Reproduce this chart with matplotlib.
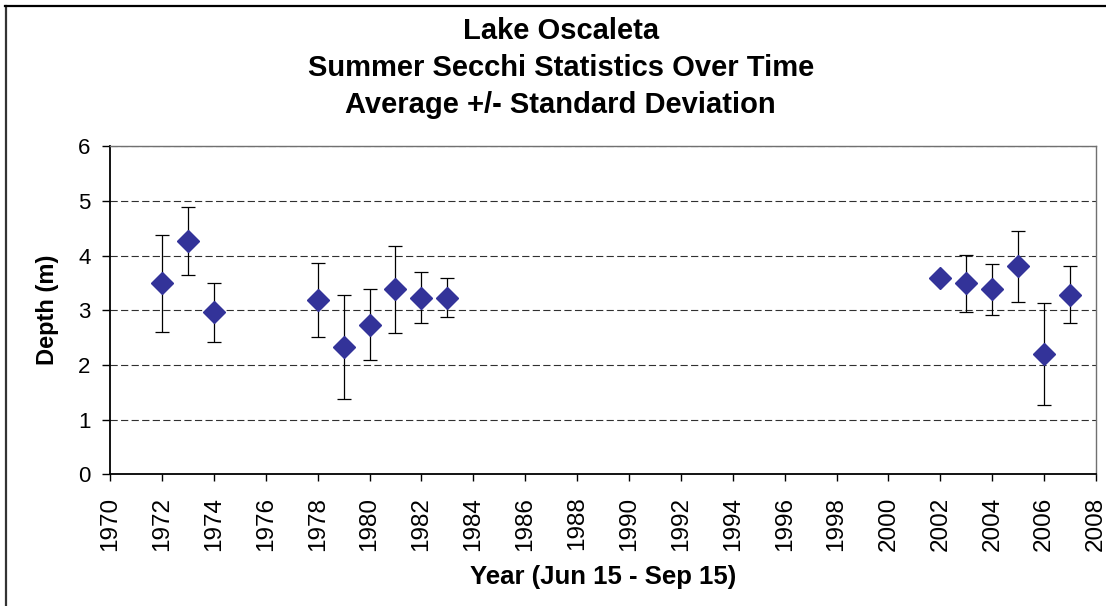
"""Lake Oscaleta summer Secchi depth: yearly mean +/- standard deviation."""

import matplotlib

matplotlib.use("Agg")
import matplotlib.pyplot as plt
from matplotlib.lines import Line2D

# ---------------------------------------------------------------------------
# Data
# ---------------------------------------------------------------------------
years = [1972, 1973, 1974, 1978, 1979, 1980, 1981, 1982, 1983,
         2002, 2003, 2004, 2005, 2006, 2007]
mean_depth = [3.49, 4.26, 2.96, 3.19, 2.33, 2.74, 3.38, 3.23, 3.23,
              3.59, 3.49, 3.38, 3.80, 2.20, 3.28]
sd_depth = [0.88, 0.62, 0.54, 0.67, 0.95, 0.64, 0.80, 0.47, 0.36,
            0.0, 0.52, 0.47, 0.65, 0.93, 0.52]

x_ticks = list(range(1970, 2009, 2))
y_ticks = [0, 1, 2, 3, 4, 5, 6]

TITLE = "Lake Oscaleta\nSummer Secchi Statistics Over Time\nAverage +/- Standard Deviation"
MARKER_COLOR = "#333399"

plt.rcParams["font.family"] = ["Liberation Sans", "DejaVu Sans"]

fig = plt.figure(figsize=(11.06, 6.06), dpi=100)
ax = fig.add_axes([0.0995, 0.217, 0.8915, 0.542])

# dashed horizontal grid
for y in y_ticks[1:]:
    ax.axhline(y, color="#303030", lw=0.8, ls=(0, (6.5, 3)), zorder=1)

ax.errorbar(years, mean_depth, yerr=sd_depth, fmt="none", ecolor="black",
            elinewidth=0.9, capsize=5, capthick=0.9, zorder=2)
ax.plot(years, mean_depth, ls="none", marker="D", ms=11,
        color=MARKER_COLOR, mec=MARKER_COLOR, zorder=3)

ax.set_xlim(1970, 2008)
ax.set_ylim(0, 6)
ax.set_xticks(x_ticks)
ax.set_xticklabels([str(t) for t in x_ticks], rotation=90, fontsize=17.5)
ax.set_yticks(y_ticks)
ax.set_yticklabels([str(t) for t in y_ticks], fontsize=16)
ax.tick_params(axis="x", direction="out", length=5, width=1, pad=11)
ax.tick_params(axis="y", direction="out", length=6, width=1, pad=8)

for side in ("left", "bottom"):
    ax.spines[side].set_color("black")
    ax.spines[side].set_linewidth(1.3)
for side in ("top", "right"):
    ax.spines[side].set_color("#707070")
    ax.spines[side].set_linewidth(1.0)

ax.set_xlabel("Year (Jun 15 - Sep 15)", fontsize=18.5, fontweight="bold", labelpad=10)
ax.set_ylabel("Depth (m)", fontsize=17, fontweight="bold", labelpad=14)

fig.text(0.507, 0.972, TITLE, ha="center", va="top", fontsize=21,
         fontweight="bold", linespacing=1.4)

# outer chart frame (only left and top edges are visible in the crop)
fig.add_artist(Line2D([0.0054, 0.0054], [0, 0.99], transform=fig.transFigure,
                      color="#333333", lw=1.6))
fig.add_artist(Line2D([0.0045, 1.0], [0.99, 0.99], transform=fig.transFigure,
                      color="black", lw=1.6))

fig.savefig("out.png", dpi=100)
plt.close(fig)
